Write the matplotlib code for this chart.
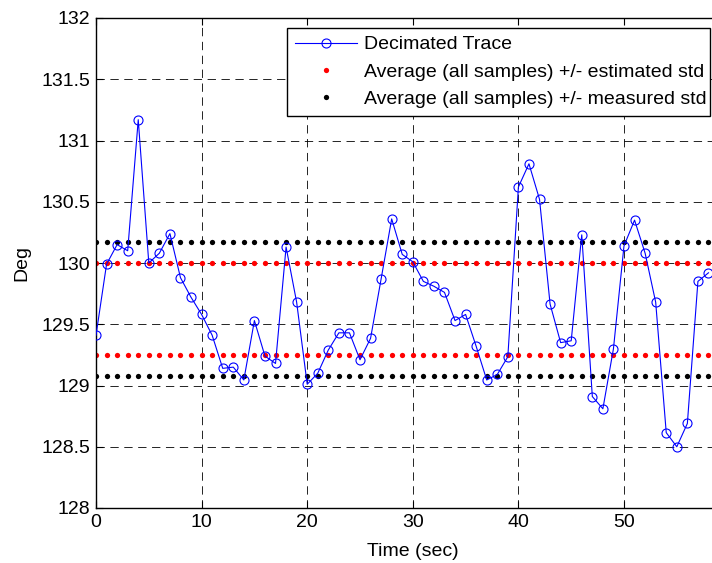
import numpy as np
import matplotlib
matplotlib.use("Agg")
import matplotlib.pyplot as plt
from matplotlib.lines import Line2D

plt.rcParams['font.family'] = ['Liberation Sans', 'DejaVu Sans']
plt.rcParams['lines.scale_dashes'] = False

# Decimated trace (1 sample per second)
time_sec = list(range(0, 59))
trace_deg = [129.41, 129.99, 130.15, 130.10, 131.17, 130.00, 130.08, 130.24, 129.88, 129.72,
             129.58, 129.41, 129.14, 129.15, 129.045, 129.53, 129.24, 129.18, 130.13, 129.68,
             129.01, 129.10, 129.29, 129.43, 129.43, 129.21, 129.385, 129.87, 130.36, 130.07,
             130.01, 129.85, 129.81, 129.76, 129.53, 129.58, 129.32, 129.045, 129.09, 129.235,
             130.62, 130.81, 130.52, 129.665, 129.35, 129.365, 130.23, 128.91, 128.81, 129.30,
             130.14, 130.35, 130.08, 129.68, 128.615, 128.50, 128.69, 129.85, 129.92]

# Average +/- std bands (sampled every second)
band_time = list(range(0, 61))
est_upper = 130.00
est_lower = 129.25
meas_upper = 130.17
meas_lower = 129.08

x_ticks = [0, 10, 20, 30, 40, 50]
y_ticks = [128, 128.5, 129, 129.5, 130, 130.5, 131, 131.5, 132]
y_tick_labels = ['128', '128.5', '129', '129.5', '130', '130.5', '131', '131.5', '132']

legend_labels = ['Decimated Trace',
                 'Average (all samples) +/- estimated std',
                 'Average (all samples) +/- measured std']

fig = plt.figure(figsize=(7.12, 5.63), dpi=100)
ax = fig.add_axes([96/712, 55/563, 633.6/712, 490/563])

ax.set_xlim(0, 60)
ax.set_ylim(128, 132)
ax.set_xticks(x_ticks)
ax.set_yticks(y_ticks)
ax.set_yticklabels(y_tick_labels)

ax.grid(True, color='black', linestyle=(0, (6, 4)), linewidth=0.6)
ax.set_axisbelow(True)

bt = np.array(band_time)
for val, col in [(meas_upper, 'black'), (meas_lower, 'black'), (est_upper, 'red'), (est_lower, 'red')]:
    ax.plot(bt, np.full(len(bt), val), 'o', color=col, markersize=3.8, markeredgewidth=0, zorder=2)

ax.plot(time_sec, trace_deg, '-o', color='blue', linewidth=0.8, markersize=6.5,
        markerfacecolor='none', markeredgewidth=0.8, zorder=3)

ax.tick_params(direction='in', labelsize=14, length=5, width=0.8, top=True, right=True, pad=4)
for s in ax.spines.values():
    s.set_linewidth(1.0)
    s.set_color('black')

ax.set_xlabel('Time (sec)', fontsize=14, labelpad=9)
ax.set_ylabel('Deg', fontsize=14, labelpad=8)

handles = [
    Line2D([], [], color='blue', linestyle='-', marker='o', markerfacecolor='none',
           markersize=6.5, linewidth=0.8, markeredgewidth=0.8),
    Line2D([], [], color='red', linestyle='none', marker='o', markersize=3.8, markeredgewidth=0),
    Line2D([], [], color='black', linestyle='none', marker='o', markersize=3.8, markeredgewidth=0),
]
x0 = (287-96)/633.6
x1 = (710-96)/633.6
y1 = (508-28)/490
y0 = (508-111)/490
leg = ax.legend(handles, legend_labels, loc='upper left',
                bbox_to_anchor=(x0, y0, x1-x0, y1-y0), mode='expand',
                fontsize=14, handlelength=3.2, handletextpad=0.36, labelspacing=0.5,
                borderaxespad=0, borderpad=0.4, fancybox=False, framealpha=1,
                edgecolor='black', numpoints=1)
leg.get_frame().set_linewidth(1.0)

fig.savefig('out.png', dpi=100)
